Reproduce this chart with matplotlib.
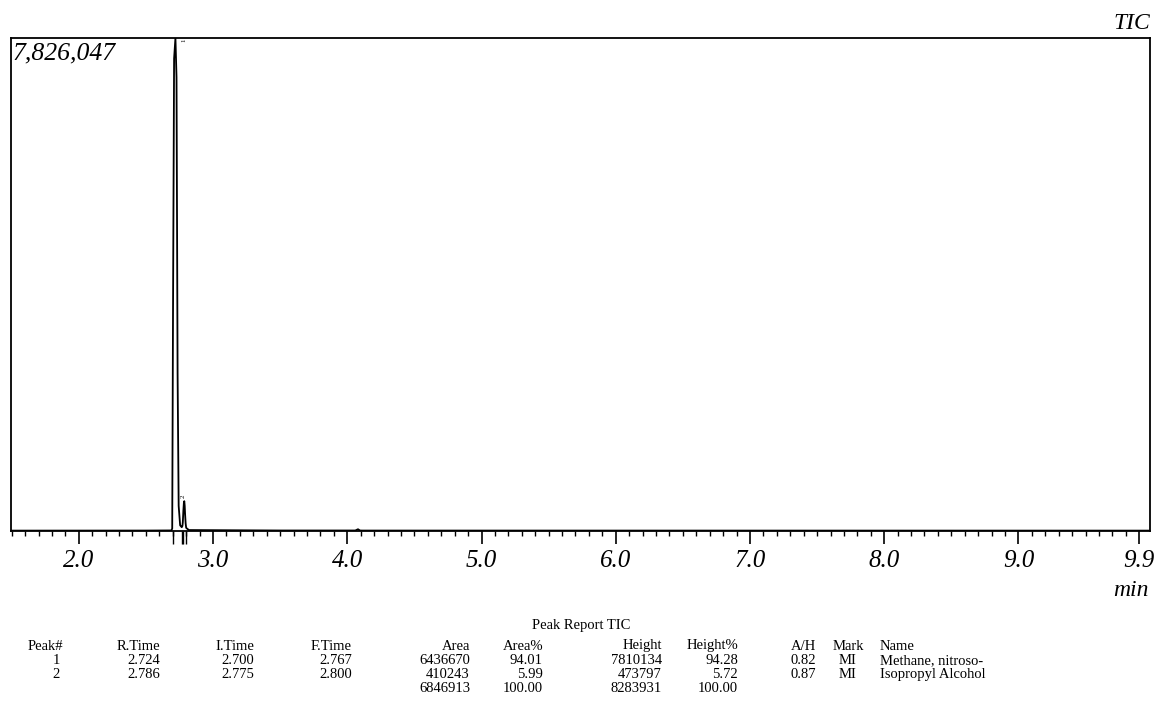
import matplotlib.pyplot as plt
from matplotlib.ticker import MultipleLocator

# chromatogram trace (min, counts)
time_min = [1.50, 2.50, 2.690, 2.696, 2.702, 2.710, 2.720, 2.728, 2.736, 2.744,
            2.755, 2.767, 2.772, 2.775, 2.779, 2.783, 2.786, 2.789, 2.792, 2.796,
            2.800, 2.820, 3.50, 4.06, 4.08, 4.095, 4.11, 9.98]
intensity = [6000, 7000, 9000, 40000, 3500000, 7500000, 7826047, 7200000, 2500000, 400000,
             90000, 60000, 80000, 140000, 320000, 450000, 473797, 400000, 260000, 120000,
             50000, 15000, 8000, 8000, 28000, 8000, 7000, 6000]
max_intensity = 7826047

# peak report
peak_no = ["1", "2"]
r_time = ["2.724", "2.786"]
i_time = ["2.700", "2.775"]
f_time = ["2.767", "2.800"]
area = ["6436670", "410243"]
area_pct = ["94.01", "5.99"]
height = ["7810134", "473797"]
height_pct = ["94.28", "5.72"]
a_h = ["0.82", "0.87"]
mark = ["MI", "MI"]
name = ["Methane, nitroso-", "Isopropyl Alcohol"]
total_area = "6846913"
total_area_pct = "100.00"
total_height = "8283931"
total_height_pct = "100.00"

xticks = [2.0, 3.0, 4.0, 5.0, 6.0, 7.0, 8.0, 9.0, 9.9]

plt.rcParams['font.family'] = ['Liberation Serif', 'DejaVu Serif']

W, H = 1155, 711
fig = plt.figure(figsize=(W / 100, H / 100), dpi=100)
ax = fig.add_axes([11 / W, (H - 531) / H, (1150 - 11) / W, (531 - 38) / H])

ax.plot(time_min, intensity, color='k', lw=1.3)

# integration markers below the baseline
for t in i_time + f_time:
    ax.vlines(float(t), -0.026 * max_intensity, 0, color='k', lw=1.0, clip_on=False)

# peak numbers
ax.text(float(r_time[0]) + 0.06, max_intensity, peak_no[0], rotation=90, fontsize=5,
        ha='center', va='top')
ax.text(float(r_time[1]) - 0.01, float(height[1]) * 1.1, peak_no[1], rotation=90,
        fontsize=5, ha='center', va='bottom')

ax.set_xlim(1.495, 9.98)
ax.set_ylim(0, max_intensity)
ax.set_yticks([])
ax.set_xticks(xticks)
ax.set_xticklabels(["{:.1f}".format(x) for x in xticks], fontsize=18, style='italic')
ax.xaxis.set_minor_locator(MultipleLocator(0.1))
ax.tick_params(axis='x', which='major', direction='out', length=9.5, width=1.2, pad=4)
ax.tick_params(axis='x', which='minor', direction='out', length=3.5, width=1.0)
for sp in ax.spines.values():
    sp.set_linewidth(1.3)

ax.text(0.001, 0.99, "{:,}".format(max_intensity), transform=ax.transAxes,
        fontsize=18.5, style='italic', ha='left', va='top')
ax.text(1.0, 1.008, "TIC", transform=ax.transAxes, fontsize=17, style='italic',
        ha='right', va='bottom')
fig.text(1149 / W, 1 - 590 / H, "min", fontsize=17, style='italic', ha='right', va='center')

# peak report table
fs = 10.5
def row(y, items):
    for x, s, ha in items:
        fig.text(x / W, 1 - y / H, s, fontsize=fs, ha=ha, va='center')

fig.text(581 / W, 1 - 625 / H, "Peak Report TIC", fontsize=fs, ha='center', va='center')
row(646, [(63, "Peak#", 'right'), (160, "R.Time", 'right'), (254, "I.Time", 'right'),
          (352, "F.Time", 'right'), (470, "Area", 'right'), (543, "Area%", 'right'),
          (662, "Height", 'right'), (738, "Height%", 'right'), (816, "A/H", 'right'),
          (848, "Mark", 'center'), (880, "Name", 'left')])
for k in range(len(peak_no)):
    row(661 + 13.5 * k, [(60, peak_no[k], 'right'), (160, r_time[k], 'right'),
                         (254, i_time[k], 'right'), (352, f_time[k], 'right'),
                         (470, area[k], 'right'), (543, area_pct[k], 'right'),
                         (662, height[k], 'right'), (738, height_pct[k], 'right'),
                         (816, a_h[k], 'right'), (848, mark[k], 'center'),
                         (880, name[k], 'left')])
row(688, [(470, total_area, 'right'), (543, total_area_pct, 'right'),
          (662, total_height, 'right'), (738, total_height_pct, 'right')])

fig.savefig('out.png', dpi=100)
